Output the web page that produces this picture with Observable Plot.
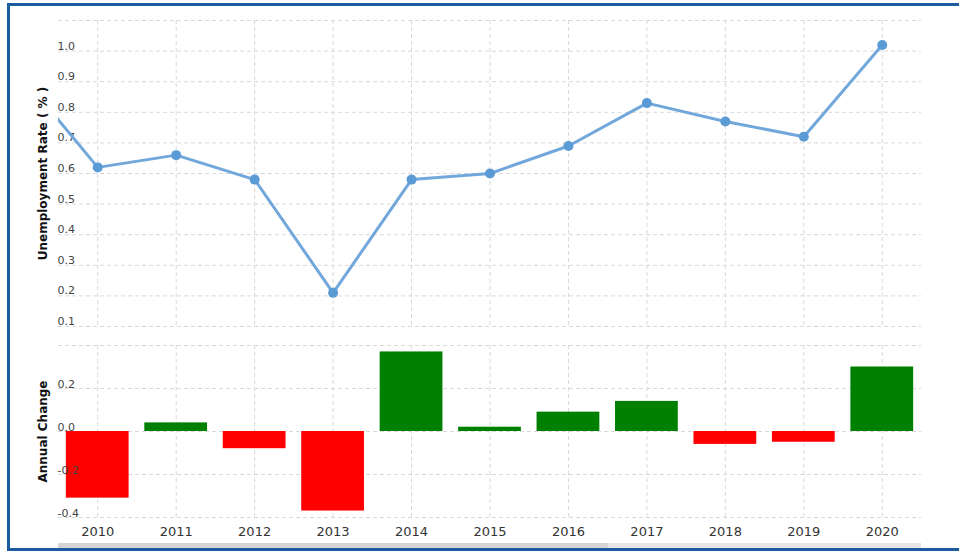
<!DOCTYPE html>
<html><head><meta charset="utf-8">
<script src="https://cdn.jsdelivr.net/npm/d3@7"></script>
<script src="https://cdn.jsdelivr.net/npm/@observablehq/plot@0.6"></script>
<style>
body{margin:0;background:#fff;width:959px;height:551px;overflow:hidden;position:relative;font-family:"DejaVu Sans",Verdana,sans-serif}
#topChart,#bottomChart{position:absolute;left:0}
#topChart{top:0}
#bottomChart{top:335px}
.b{position:absolute;background:#1b5b9f}
#scroll{position:absolute;left:58px;top:543px;width:863px;height:5px;background:linear-gradient(to right,#d4d4d4 0,#d4d4d4 550px,#e6e6e6 550px)}
#bottomChart [aria-label="x-axis tick label"]{font-size:13px;fill:#333}
</style></head><body>
<div id="topChart"></div><div id="bottomChart"></div>
<div id="scroll"></div>
<div class="b" style="left:7px;top:3px;width:952px;height:3px"></div>
<div class="b" style="left:7px;top:3px;width:3px;height:548px"></div>
<div class="b" style="left:7px;top:548px;width:952px;height:3px"></div>
<script>
const years = [2009, 2010, 2011, 2012, 2013, 2014, 2015, 2016, 2017, 2018, 2019, 2020];
const rates = [0.93, 0.62, 0.66, 0.58, 0.21, 0.58, 0.60, 0.69, 0.83, 0.77, 0.72, 1.02];
const changeYears = [2010, 2011, 2012, 2013, 2014, 2015, 2016, 2017, 2018, 2019, 2020];
const changes = [-0.31, 0.04, -0.08, -0.37, 0.37, 0.02, 0.09, 0.14, -0.06, -0.05, 0.30];
const yearTicks = [2010, 2011, 2012, 2013, 2014, 2015, 2016, 2017, 2018, 2019, 2020];
const rateTicks = [0.1, 0.2, 0.3, 0.4, 0.5, 0.6, 0.7, 0.8, 0.9, 1.0];
const rateGrid = [0.1, 0.2, 0.3, 0.4, 0.5, 0.6, 0.7, 0.8, 0.9, 1.0, 1.1];
const changeTicks = [-0.4, -0.2, 0.0, 0.2];
const changeGrid = [-0.4, -0.2, 0.0, 0.2, 0.4];
const rateTitle = "Unemployment Rate ( % )";
const changeTitle = "Annual Change";

const rateRows = years.map((year, i) => ({year, rate: rates[i]}));
const changeRows = changeYears.map((year, i) => ({year, change: changes[i]}));

const font = '"DejaVu Sans", Verdana, sans-serif';
const gridStyle = {stroke: "#d9d9d9", strokeOpacity: 1, strokeDasharray: "4,3"};
const fmt = d => d.toFixed(1);

const ratePlot = Plot.plot({
  width: 959, height: 335,
  marginLeft: 58, marginRight: 38, marginTop: 20, marginBottom: 9,
  x: {type: "linear", domain: [2009.5, 2020.5], axis: null},
  y: {domain: [0.1, 1.1], axis: null},
  style: {fontFamily: font, background: "transparent", color: "#444", overflow: "visible"},
  marks: [
    Plot.gridY(rateGrid, gridStyle),
    Plot.gridX(yearTicks, gridStyle),
    Plot.axisY(rateTicks, {anchor: "left", tickSize: 0, textAnchor: "start", dx: 8, dy: -5, tickFormat: fmt, fontSize: 11, label: null}),
    Plot.line(rateRows, {x: "year", y: "rate", stroke: "#72a7db", strokeWidth: 3, clip: true}),
    Plot.dot(rateRows, {x: "year", y: "rate", r: 5, fill: "#5b9bd5", clip: true}),
    Plot.text([rateTitle], {frameAnchor: "left", textAnchor: "middle", rotate: -90, dx: -15, fontWeight: "bold", fontSize: 12, fill: "#111"})
  ]
});
document.getElementById("topChart").append(ratePlot);

const changePlot = Plot.plot({
  width: 959, height: 216,
  marginLeft: 58, marginRight: 38, marginTop: 10, marginBottom: 34,
  x: {type: "linear", domain: [2009.5, 2020.5], axis: null},
  y: {domain: [-0.4, 0.4], axis: null},
  style: {fontFamily: font, background: "transparent", color: "#444", overflow: "visible"},
  marks: [
    Plot.gridY(changeGrid, gridStyle),
    Plot.gridX(yearTicks, gridStyle),
    Plot.rect(changeRows, {
      x1: d => d.year - 0.4, x2: d => d.year + 0.4,
      y1: d => 0, y2: "change",
      fill: d => d.change < 0 ? "#ff0000" : "#008000"
    }),
    Plot.axisY(changeTicks, {anchor: "left", tickSize: 0, textAnchor: "start", dx: 8, dy: -4.5, tickFormat: fmt, fontSize: 11, label: null}),
    Plot.axisX(yearTicks, {anchor: "bottom", tickSize: 0, tickPadding: 9, tickFormat: d => String(d), fontSize: 13, fill: "#333", label: null}),
    Plot.text([changeTitle], {frameAnchor: "left", textAnchor: "middle", rotate: -90, dx: -15, fontWeight: "bold", fontSize: 12, fill: "#111"})
  ]
});
document.getElementById("bottomChart").append(changePlot);
</script>
</body></html>
